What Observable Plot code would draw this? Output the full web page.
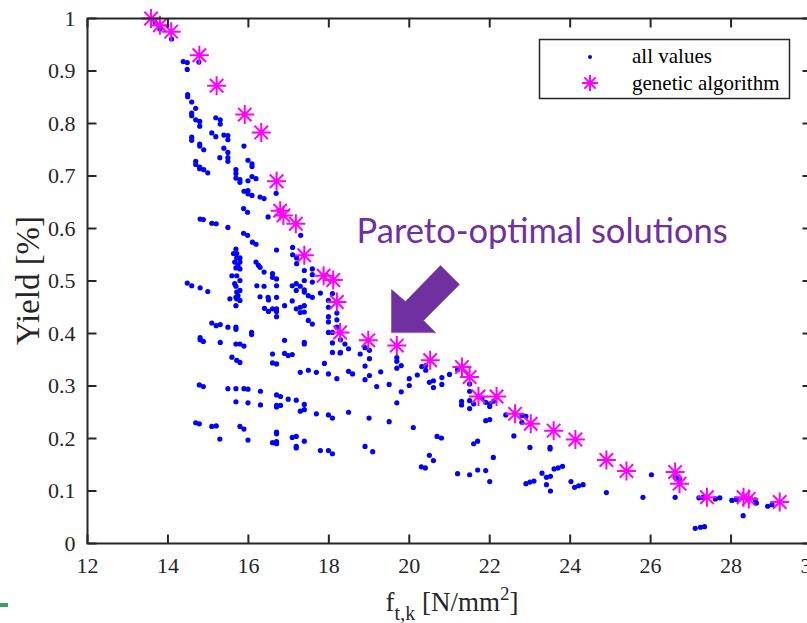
<!DOCTYPE html>
<html>
<head>
<meta charset="utf-8">
<script src="https://cdn.jsdelivr.net/npm/d3@7"></script>
<script src="https://cdn.jsdelivr.net/npm/@observablehq/plot@0.6"></script>
<style>
  html, body { margin: 0; padding: 0; background: #fff; overflow: hidden; }
  #chart svg { display: block; }
</style>
</head>
<body>
<div id="chart"></div>
<script>
// ---- data ----
const allPoints = [
  [13.68,0.993],[13.78,0.985],[13.80,0.980],[14.09,0.961],[14.38,0.918],[14.48,0.916],[14.48,0.903],[14.77,0.917],
  [14.49,0.855],[14.49,0.851],[14.59,0.841],[14.69,0.829],
  [14.59,0.820],[14.59,0.815],[14.69,0.807],[14.79,0.804],[14.79,0.795],
  [15.19,0.811],[15.30,0.807],[15.30,0.799],[15.09,0.782],[15.19,0.775],
  [15.39,0.778],[15.49,0.777],[15.49,0.769],[15.89,0.757],
  [14.59,0.774],[14.59,0.768],[14.79,0.761],[14.79,0.757],[14.89,0.750],
  [15.39,0.753],[15.49,0.745],[15.29,0.735],[15.49,0.735],[15.49,0.728],
  [14.69,0.728],[14.69,0.722],[14.79,0.717],[14.79,0.714],[14.89,0.712],[14.99,0.706],
  [15.99,0.730],[16.09,0.723],[16.09,0.718],
  [15.69,0.712],[15.69,0.705],[15.69,0.696],[15.79,0.693],[15.79,0.688],
  [15.99,0.691],[16.09,0.699],[16.19,0.695],
  [15.89,0.671],[15.99,0.672],[15.99,0.666],[16.09,0.663],[16.29,0.660],[16.39,0.657],[16.69,0.667],
  [15.88,0.638],[15.98,0.631],[16.49,0.622],
  [14.80,0.618],[14.88,0.617],[15.09,0.610],[15.20,0.609],[15.49,0.602],
  [15.88,0.591],[15.98,0.587],[16.10,0.574],[16.19,0.570],[16.70,0.559],
  [17.10,0.564],[17.10,0.550],[17.20,0.544],[17.20,0.533],[17.30,0.587],
  [15.69,0.561],[15.63,0.552],[15.71,0.552],[15.71,0.544],[15.79,0.544],[15.66,0.536],[15.79,0.536],
  [15.79,0.523],[15.69,0.525],[15.59,0.510],[15.71,0.510],[15.79,0.501],[15.69,0.490],[15.79,0.482],
  [15.71,0.479],[15.69,0.469],[15.54,0.466],[15.71,0.466],[15.79,0.463],[15.69,0.453],
  [15.74,0.530],[15.66,0.495],[15.74,0.472],
  [16.19,0.536],[16.25,0.530],[16.29,0.526],[16.39,0.517],[16.21,0.491],[16.39,0.490],[16.29,0.470],
  [16.49,0.469],[16.50,0.464],[16.70,0.469],[16.40,0.448],[16.50,0.442],[16.60,0.447],[16.70,0.442],
  [16.70,0.447],[16.90,0.453],[16.70,0.432],
  [16.60,0.514],[16.60,0.507],[16.70,0.504],[16.70,0.491],
  [17.39,0.520],[17.59,0.523],[17.59,0.512],[17.39,0.501],[17.59,0.498],[17.19,0.495],[17.09,0.491],
  [17.29,0.490],[17.39,0.483],[17.39,0.479],[17.49,0.472],[17.59,0.469],[17.79,0.477],[17.19,0.482],[17.09,0.462],
  [17.19,0.447],[17.29,0.450],[17.39,0.453],[17.29,0.440],[17.39,0.441],[17.49,0.425],[17.59,0.418],
  [17.99,0.463],[17.99,0.450],[17.99,0.432],[18.09,0.476],[18.20,0.439],[18.20,0.426],[17.99,0.422],
  [17.99,0.402],[18.09,0.402],[18.09,0.382],[18.20,0.412],[18.29,0.388],[18.29,0.364],[18.40,0.380],
  [18.49,0.371],[18.09,0.364],
  [14.48,0.496],[14.59,0.491],[14.80,0.487],[14.99,0.480],
  [15.09,0.420],[15.20,0.415],[15.30,0.417],[15.49,0.412],[15.69,0.412],[15.69,0.408],
  [16.08,0.402],[16.08,0.398],
  [14.80,0.392],[14.80,0.388],[14.88,0.385],[15.30,0.383],[15.69,0.380],[15.79,0.380],[15.89,0.376],
  [15.79,0.345],[15.59,0.355],[15.71,0.349],
  [16.90,0.387],[17.39,0.383],[17.39,0.380],[16.60,0.361],[16.90,0.362],[16.99,0.358],[17.09,0.360],
  [16.60,0.344],[16.70,0.342],[17.89,0.343],[17.29,0.326],[17.49,0.330],[17.69,0.326],[17.99,0.323],
  [18.20,0.314],[18.49,0.328],[18.59,0.323],[18.78,0.361],
  [14.78,0.302],[14.88,0.299],
  [15.49,0.295],[15.69,0.295],[15.89,0.295],[15.99,0.294],[16.30,0.290],
  [16.70,0.283],[16.80,0.280],[16.99,0.275],[17.19,0.273],[17.39,0.265],
  [15.69,0.270],[15.99,0.268],[16.30,0.264],[16.70,0.263],[16.70,0.260],[16.80,0.263],
  [17.29,0.252],[17.39,0.255],[17.69,0.247],[17.99,0.245],[18.09,0.239],[18.49,0.250],
  [14.69,0.230],[14.78,0.228],[15.09,0.223],[15.20,0.224],[15.79,0.223],[15.89,0.218],
  [16.70,0.212],[16.70,0.209],[17.09,0.202],[17.19,0.204],[17.39,0.195],[17.19,0.185],[17.19,0.182],
  [15.29,0.199],[15.99,0.197],[16.60,0.192],[16.70,0.194],[16.70,0.190],
  [17.79,0.177],[17.99,0.177],[18.09,0.171],
  [18.28,0.363],[18.90,0.373],[19.01,0.368],[19.01,0.352],[18.90,0.338],[18.90,0.312],[19.01,0.320],
  [19.19,0.299],[19.29,0.327],[19.50,0.303],
  [19.69,0.354],[19.69,0.347],[19.80,0.339],[19.69,0.334],[19.80,0.289],[19.69,0.268],
  [20.00,0.314],[20.00,0.301],[20.20,0.321],[20.31,0.337],[20.41,0.339],[20.41,0.330],[20.50,0.307],
  [20.60,0.310],[20.60,0.297],[20.81,0.316],[20.81,0.303],[21.00,0.322],[21.20,0.331],
  [19.00,0.239],[19.50,0.232],[20.10,0.221],[18.90,0.185],[19.09,0.175],
  [20.69,0.204],[20.80,0.201],[20.50,0.168],[20.60,0.158],[20.30,0.146],[20.40,0.144],
  [21.20,0.133],[21.50,0.131],[21.70,0.140],[21.90,0.139],[22.00,0.118],
  [21.50,0.304],[21.50,0.290],[21.50,0.272],[21.30,0.271],[21.30,0.264],[21.50,0.257],[21.60,0.266],
  [21.81,0.277],[21.90,0.269],[22.00,0.266],[22.00,0.261],[22.09,0.271],
  [21.60,0.190],[21.70,0.195],[21.90,0.234],[22.00,0.236],[22.09,0.164],
  [22.40,0.245],[22.60,0.205],[22.80,0.244],[22.80,0.231],[22.90,0.242],[23.00,0.183],[23.50,0.183],[23.50,0.180],
  [23.30,0.134],[23.41,0.126],[23.51,0.128],[23.60,0.142],[23.70,0.144],[22.90,0.114],[23.00,0.117],
  [23.10,0.119],[23.41,0.112],[23.51,0.100],
  [23.81,0.147],[24.02,0.118],[24.11,0.107],[24.21,0.110],[24.32,0.112],
  [24.90,0.097],[25.81,0.088],[26.02,0.131],[26.61,0.126],[26.72,0.124],[26.61,0.088],
  [27.11,0.029],[27.24,0.031],[27.34,0.032],
  [27.20,0.087],[27.30,0.088],[27.61,0.085],[27.72,0.087],
  [28.02,0.082],[28.13,0.084],[28.30,0.053],[28.60,0.083],[28.63,0.077],
  [28.91,0.071],[29.02,0.074]
];

const gaPoints = [
  [13.58,1.000],[13.80,0.987],[14.08,0.975],[14.78,0.930],[15.21,0.872],[15.91,0.817],[16.32,0.783],
  [16.70,0.690],[16.79,0.634],[16.87,0.625],[17.18,0.609],[17.39,0.549],[17.87,0.510],[18.11,0.502],
  [18.20,0.460],[18.28,0.402],[18.98,0.387],[19.69,0.377],[20.52,0.349],[21.31,0.336],[21.50,0.317],
  [21.72,0.280],[22.17,0.280],[22.63,0.247],[23.02,0.228],[23.59,0.215],[24.13,0.198],[24.90,0.159],
  [25.40,0.138],[26.61,0.136],[26.72,0.114],[27.40,0.088],[28.31,0.088],[28.44,0.085],[29.21,0.079]
];

const xTicks = [12, 14, 16, 18, 20, 22, 24, 26, 28, 30];
const yTicks = [0, 0.1, 0.2, 0.3, 0.4, 0.5, 0.6, 0.7, 0.8, 0.9, 1];
const yTickLabels = ["0", "0.1", "0.2", "0.3", "0.4", "0.5", "0.6", "0.7", "0.8", "0.9", "1"];
const seriesNames = ["all values", "genetic algorithm"];
const annotationText = ["Pareto-optimal solutions"];
const annotationPos = [[18.69, 0.594]];
const arrowShape = [[19.558,0.402],[19.558,0.484],[19.906,0.461],[20.776,0.5295],[21.248,0.4933],[20.354,0.4248],[20.652,0.402]];

// ---- symbols ----
const asterisk = {
  draw(ctx, size) {
    const r = Math.sqrt(size / Math.PI), d = r * Math.SQRT1_2;
    ctx.moveTo(-r, 0); ctx.lineTo(r, 0);
    ctx.moveTo(0, -r); ctx.lineTo(0, r);
    ctx.moveTo(-d, -d); ctx.lineTo(d, d);
    ctx.moveTo(-d, d); ctx.lineTo(d, -d);
  }
};
const TL = 9;
const tickUp = { draw(c) { c.moveTo(0, 0); c.lineTo(0, -TL); } };
const tickDown = { draw(c) { c.moveTo(0, 0); c.lineTo(0, TL); } };
const tickRight = { draw(c) { c.moveTo(0, 0); c.lineTo(TL, 0); } };
const tickLeft = { draw(c) { c.moveTo(0, 0); c.lineTo(-TL, 0); } };

const axisColor = "#262626";
const serif = "Liberation Serif";

const plot = Plot.plot({
  width: 807,
  height: 623,
  marginLeft: 87,
  marginRight: -4,
  marginTop: 18,
  marginBottom: 80,
  style: { fontFamily: serif, background: "#fff", overflow: "hidden" },
  x: { domain: [12, 30], axis: null },
  y: { domain: [0, 1], axis: null },
  marks: [
    Plot.dot(allPoints, { x: d => d[0], y: d => d[1], r: 2.6, fill: "#0000ff", stroke: "none" }),
    Plot.dot(gaPoints, { x: d => d[0], y: d => d[1], r: 9.5, symbol: asterisk, stroke: "#ff00ff", strokeWidth: 2, fill: "none" }),
    Plot.line(arrowShape, { x: d => d[0], y: d => d[1], curve: "linear-closed", fill: "#7030a0", stroke: "#7030a0", strokeWidth: 0.5 }),
    Plot.text(annotationText, { x: () => annotationPos[0][0], y: () => annotationPos[0][1], text: d => d, textAnchor: "start", fontSize: 34.5, fontFamily: "Lato", fill: "#7030a0" }),
    Plot.frame({ stroke: axisColor, strokeWidth: 2 }),
    Plot.dot(xTicks, { x: d => d, y: () => 0, symbol: tickUp, stroke: axisColor, strokeWidth: 2, r: 1 }),
    Plot.dot(xTicks, { x: d => d, y: () => 1, symbol: tickDown, stroke: axisColor, strokeWidth: 2, r: 1 }),
    Plot.dot(yTicks, { x: () => 12, y: d => d, symbol: tickRight, stroke: axisColor, strokeWidth: 2, r: 1 }),
    Plot.dot(yTicks, { x: () => 30, y: d => d, symbol: tickLeft, stroke: axisColor, strokeWidth: 2, r: 1 }),
    Plot.text(xTicks, { x: d => d, y: () => 0, text: d => String(d), dy: 22, fontSize: 22, fontFamily: serif, fill: axisColor }),
    Plot.text(yTicks, { x: () => 12, y: d => d, text: (d, i) => yTickLabels[i], dx: -12, textAnchor: "end", fontSize: 22, fontFamily: serif, fill: axisColor })
  ]
});

document.getElementById("chart").appendChild(plot);

// ---- axis titles & legend ----
const svg = d3.select(plot);
const ys = plot.scale("y");

// stray green dash at the bottom-left edge of the source slide
svg.append("rect").attr("x", 0).attr("y", 603).attr("width", 8).attr("height", 4).attr("fill", "#3c9d5d");

const xl = svg.append("text")
  .attr("x", 452).attr("y", 611)
  .attr("text-anchor", "middle")
  .style("font-family", serif).attr("font-size", 27).attr("fill", axisColor);
xl.append("tspan").text("f");
xl.append("tspan").attr("dy", 9).attr("font-size", 20).text("t,k");
xl.append("tspan").attr("dy", -9).text(" [N/mm");
xl.append("tspan").attr("dy", -11).attr("font-size", 19).text("2");
xl.append("tspan").attr("dy", 11).text("]");

svg.append("text")
  .attr("transform", `translate(39,${(ys.apply(0) + ys.apply(1)) / 2}) rotate(-90)`)
  .attr("text-anchor", "middle")
  .style("font-family", serif).attr("font-size", 33).attr("fill", axisColor)
  .text("Yield [%]");

const lg = svg.append("g");
lg.append("rect").attr("x", 539.5).attr("y", 39.5).attr("width", 250).attr("height", 59)
  .attr("fill", "#fff").attr("stroke", axisColor).attr("stroke-width", 1.5);
lg.append("circle").attr("cx", 590).attr("cy", 57).attr("r", 2).attr("fill", "#0000ff");
lg.append("path").attr("transform", "translate(590,83)")
  .attr("d", (() => { const p = d3.path(); asterisk.draw(p, Math.PI * 8 * 8); return p.toString(); })())
  .attr("stroke", "#ff00ff").attr("stroke-width", 2).attr("fill", "none");
seriesNames.forEach((name, i) => {
  lg.append("text").attr("x", 632).attr("y", 63 + i * 26.5)
    .attr("text-anchor", "start")
    .style("font-family", serif).attr("font-size", 21).attr("fill", "#000").text(name);
});
</script>
</body>
</html>
